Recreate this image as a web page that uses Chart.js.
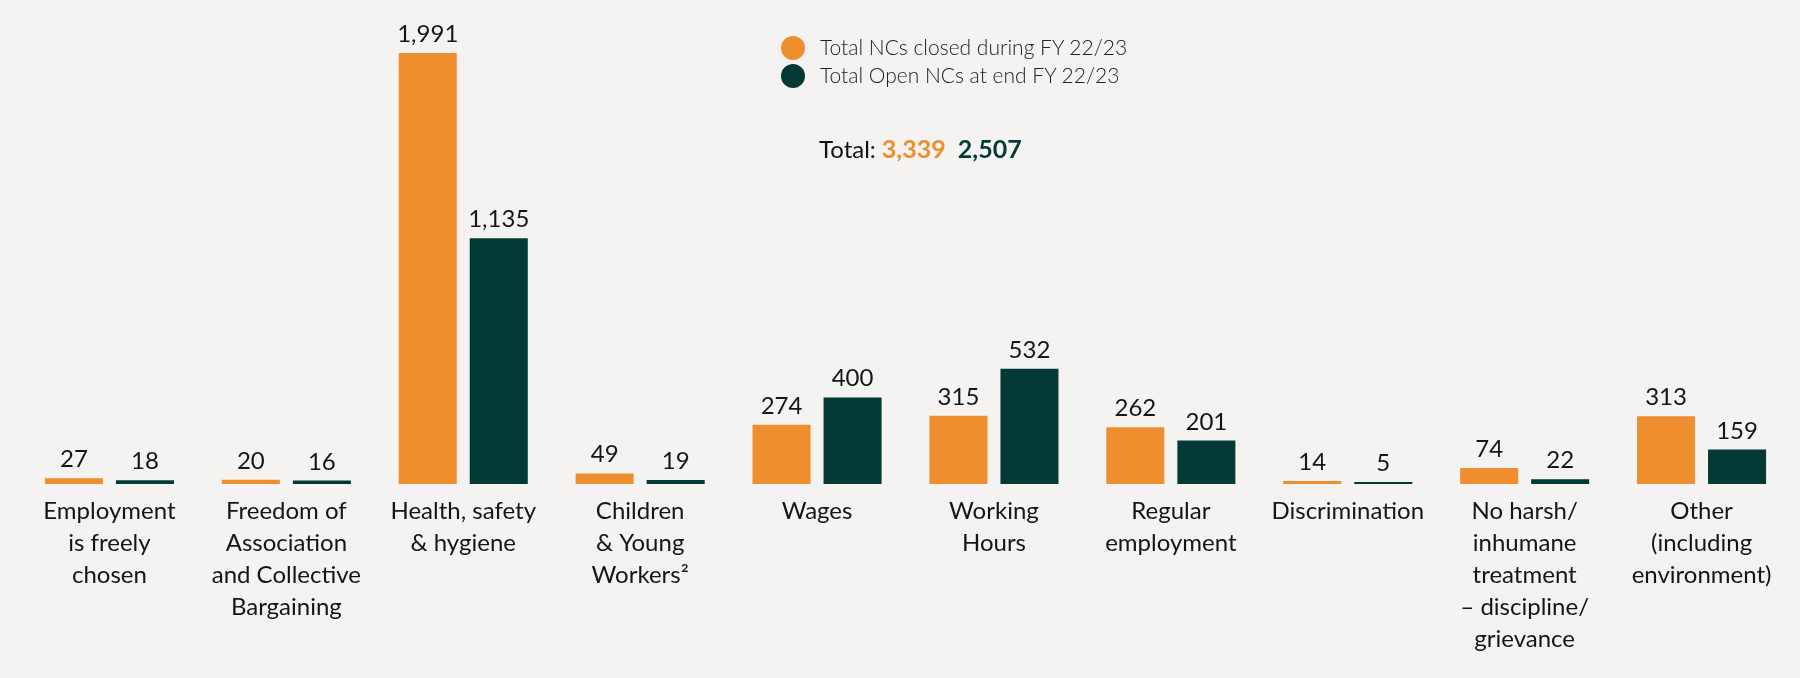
<!DOCTYPE html>
<html>
<head>
<meta charset="utf-8">
<script src="https://cdn.jsdelivr.net/npm/chart.js@4"></script>
<style>
  html, body { margin: 0; padding: 0; background: #f4f3f1; }
  #wrap { position: relative; width: 1800px; height: 678px; }
  #legend { position: absolute; left: 781px; top: 33px; font-family: Lato, sans-serif; font-weight: 300; font-size: 21px; line-height: 28px; color: #222; }
  #legend .row { position: relative; padding-left: 39px; white-space: nowrap; }
  #legend .dot { position: absolute; left: 0; top: 3px; width: 24px; height: 24px; border-radius: 50%; }
  #total { position: absolute; left: 819px; top: 133px; font-family: Lato, sans-serif; font-size: 24px; line-height: 30px; color: #111; white-space: nowrap; }
  #total b { font-weight: 700; font-size: 25px; margin-left: 6px; }
</style>
</head>
<body>
<div id="wrap">
  <canvas id="ncChart"></canvas>
  <div id="legend"></div>
  <div id="total">Total:<b id="totClosed"></b> <b id="totOpen"></b></div>
</div>
<script>
// Categories (multi-line tick labels)
const categories = [
    ["Employment", "is freely", "chosen"],
    ["Freedom of", "Association", "and Collective", "Bargaining"],
    ["Health, safety", "& hygiene"],
    ["Children", "& Young", "Workers\u00B2"],
    ["Wages"],
    ["Working", "Hours"],
    ["Regular", "employment"],
    ["Discrimination"],
    ["No harsh/", "inhumane", "treatment", "\u2013 discipline/", "grievance"],
    ["Other", "(including", "environment)"]
];

// Series values
const closedNCs = [27, 20, 1991, 49, 274, 315, 262, 14, 74, 313];
const openNCs = [18, 16, 1135, 19, 400, 532, 201, 5, 22, 159];

const seriesNames = ["Total NCs closed during FY 22/23", "Total Open NCs at end FY 22/23"];
const ORANGE = "#ee8e2e";
const TEAL = "#033a36";

function fmt(n) {
    return n.toLocaleString("en-US");
}

// Legend + totals
const legendEl = document.getElementById("legend");
[ORANGE, TEAL].forEach((c, i) => {
    let row = document.createElement("div");
    row.className = "row";
    row.innerHTML = `<span class="dot" style="background:${c}"></span>${seriesNames[i]}`;
    legendEl.appendChild(row);
});
const sum = arr => arr.reduce((a, b) => a + b, 0);
document.getElementById("totClosed").textContent = fmt(sum(closedNCs));
document.getElementById("totClosed").style.color = ORANGE;
document.getElementById("totOpen").textContent = fmt(sum(openNCs));
document.getElementById("totOpen").style.color = TEAL;

// Value labels above each bar
const valueLabels = {
    id: "valueLabels",
    afterDatasetsDraw(chart) {
        const ctx = chart.ctx;
        ctx.save();
        ctx.font = "400 24px Lato, sans-serif";
        ctx.fillStyle = "#151515";
        ctx.textAlign = "center";
        ctx.textBaseline = "alphabetic";
        chart.data.datasets.forEach((ds, di) => {
            chart.getDatasetMeta(di).data.forEach((bar, i) => {
                ctx.fillText(fmt(ds.data[i]), bar.x, bar.y - 11);
            });
        });
        ctx.restore();
    }
};

const ctx = document.getElementById("ncChart").getContext("2d");
const ncChart = new Chart(ctx, {
    type: "bar",
    data: {
        labels: categories,
        datasets: [
            { label: seriesNames[0], data: closedNCs, backgroundColor: ORANGE },
            { label: seriesNames[1], data: openNCs, backgroundColor: TEAL }
        ]
    },
    options: {
        responsive: true,
        maintainAspectRatio: false,
        animation: false,
        categoryPercentage: 0.803,
        barPercentage: 0.817,
        minBarLength: 2,
        layout: { padding: { left: 21, right: 10, top: 51, bottom: 12 } },
        plugins: {
            legend: { display: false },
            tooltip: { enabled: false }
        },
        scales: {
            x: {
                grid: { display: false, drawTicks: false },
                border: { display: false },
                ticks: {
                    color: "#151515",
                    font: { family: "Lato, sans-serif", size: 24, lineHeight: 1.333 },
                    padding: 11,
                    maxRotation: 0,
                    autoSkip: false
                }
            },
            y: {
                display: false,
                min: 0,
                max: 2000
            }
        }
    },
    plugins: [valueLabels]
});
</script>
</body>
</html>
